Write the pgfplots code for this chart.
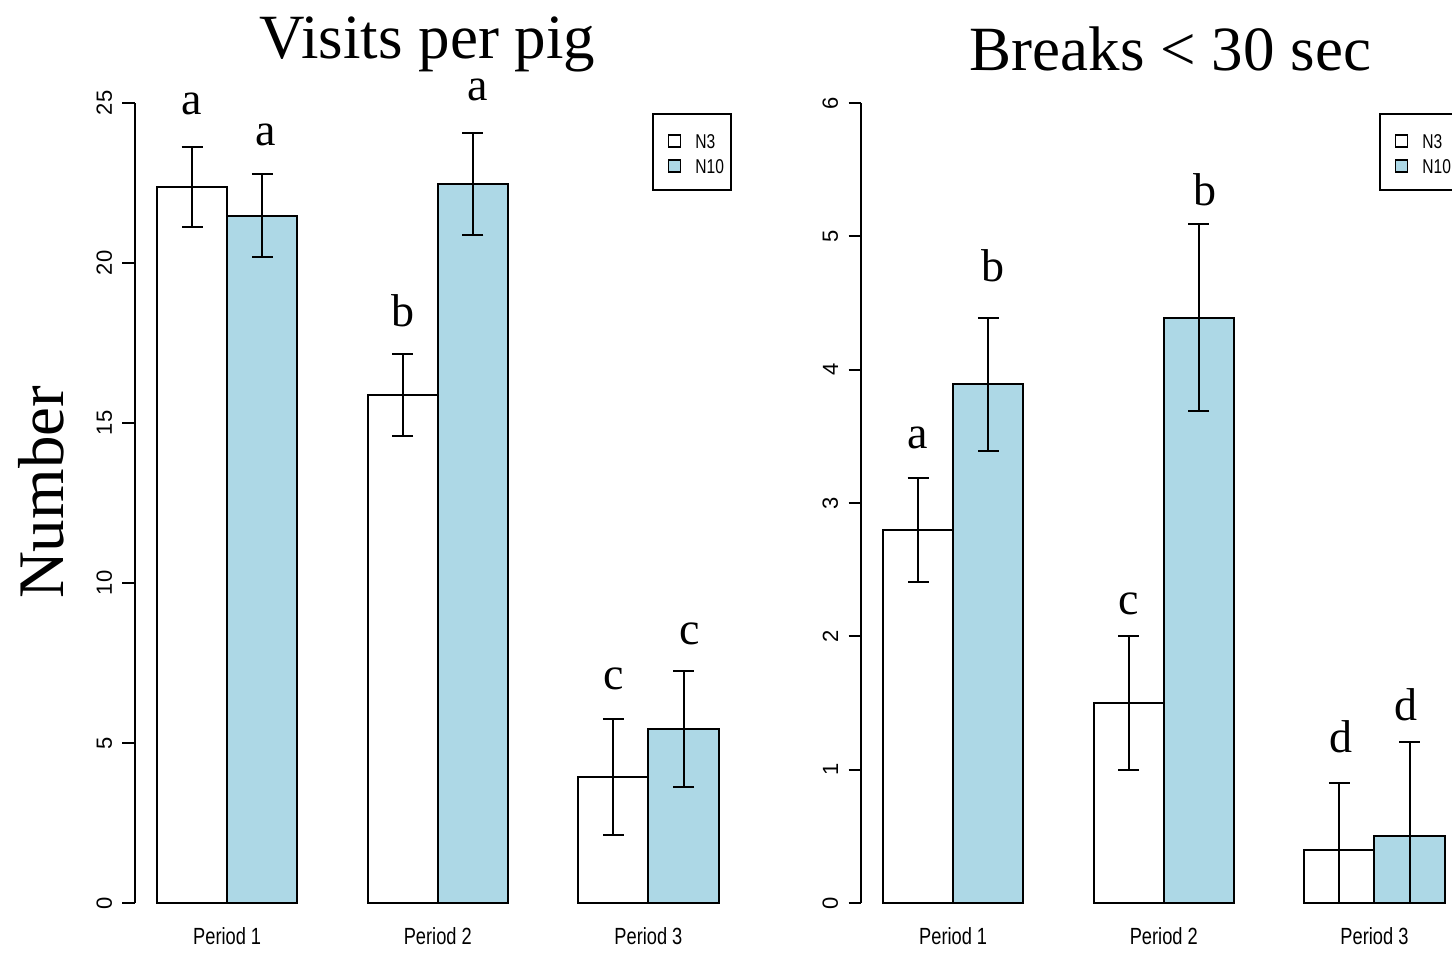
\documentclass[border=0pt]{standalone}
\usepackage{fontspec}
\setmainfont{Liberation Serif}
\newfontfamily\rsans{Liberation Sans}
\newfontfamily\rnarrow[FakeStretch=0.78]{Liberation Sans}
\usepackage{pgfplots}
\pgfplotsset{compat=1.18}
\definecolor{lb}{HTML}{ADD8E6}
\tikzset{lett/.style={anchor=base, font=\fontsize{23}{24}\selectfont}}
\pgfplotsset{
  rpanel/.style={
    scale only axis, width=303.3pt, height=400pt,
    xmin=0.68, xmax=9.32, ymin=0,
    axis y line*=left, axis x line*=bottom,
    x axis line style={draw=none},
    xtick={2,5,8}, xticklabels={Period 1,Period 2,Period 3},
    xtick style={draw=none},
    tick align=outside, major tick length=6pt,
    y axis line style={line width=1pt},
    ytick style={line width=1pt, black},
    yticklabel shift=5pt,
    xticklabel shift=6pt,
    yticklabel style={rotate=90, anchor=south, inner sep=0pt,
      font=\rsans\fontsize{11}{12}\selectfont},
    xticklabel style={anchor=north, inner sep=0pt,
      font=\rnarrow\fontsize{11.7}{13}\selectfont},
    /pgf/number format/assume math mode=true,
    clip=false,
    legend style={anchor=north west, draw=none, fill=none, inner sep=0pt,
      font=\rnarrow\fontsize{10}{10}\selectfont, row sep=0pt,
      column sep=5pt, cells={anchor=west}},
  },
  rbar/.style={ybar, bar width=1, bar shift=0pt, draw=black, line width=1pt,
    legend image code/.code={\draw[##1,line width=0.8pt] (0pt,-2pt) rectangle (6pt,4pt);},
    error bars/y dir=both, error bars/y explicit,
    error bars/error bar style={line width=1pt, black},
    error bars/error mark options={rotate=90, line width=1pt, black, mark size=5.25pt}},
}
\begin{document}
\begin{tikzpicture}
\path[use as bounding box] (0,0) rectangle (726pt,476.5pt);
% left panel
\begin{axis}[rpanel, at={(67.25pt,25pt)}, anchor=south west,
  ymax=25, ytick={0,5,10,15,20,25},
  legend style={at={(axis cs:8.27,24.15)}}]
\addplot[rbar, fill=white] coordinates {
  (1.5,22.38) +- (0,1.25)
  (4.5,15.88) +- (0,1.28)
  (7.5,3.94) +- (0,1.8)};
\addlegendentry{N3}
\addplot[rbar, fill=lb] coordinates {
  (2.5,21.48) +- (0,1.29)
  (5.5,22.47) +- (0,1.6)
  (8.5,5.44) +- (0,1.8)};
\addlegendentry{N10}
\node[lett] at (axis cs:1.49,24.63) {a};
\node[lett] at (axis cs:2.55,23.67) {a};
\node[lett] at (axis cs:4.51,18.01) {b};
\node[lett] at (axis cs:5.57,25.09) {a};
\node[lett] at (axis cs:7.51,6.68) {c};
\node[lett] at (axis cs:8.585,8.08) {c};
\draw[line width=1pt] (axis cs:8.07,24.65) rectangle (axis cs:9.18,22.28);
\end{axis}
% right panel
\begin{axis}[rpanel, at={(430.25pt,25pt)}, anchor=south west,
  ymax=6, ytick={0,1,2,3,4,5,6},
  legend style={at={(axis cs:8.285,5.797)}}]
\addplot[rbar, fill=white] coordinates {
  (1.5,2.8) +- (0,0.39)
  (4.5,1.5) +- (0,0.5)
  (7.5,0.4) += (0,0.5) -= (0,0.4)};
\addlegendentry{N3}
\addplot[rbar, fill=lb] coordinates {
  (2.5,3.89) +- (0,0.5)
  (5.5,4.39) +- (0,0.7)
  (8.5,0.505) += (0,0.7) -= (0,0.505)};
\addlegendentry{N10}
\node[lett] at (axis cs:1.49,3.41) {a};
\node[lett] at (axis cs:2.57,4.66) {b};
\node[lett] at (axis cs:4.50,2.16) {c};
\node[lett] at (axis cs:5.58,5.23) {b};
\node[lett] at (axis cs:7.52,1.13) {d};
\node[lett] at (axis cs:8.45,1.365) {d};
\draw[line width=1pt] (axis cs:8.085,5.915) rectangle (axis cs:9.19,5.35);
\end{axis}
% titles and y label
\node[anchor=base, font=\fontsize{31.5}{33}\selectfont] at (213.75pt,447pt) {Visits per pig};
\node[anchor=base, font=\fontsize{31.5}{33}\selectfont] at (585.25pt,441pt) {Breaks < 30 sec};
\node[rotate=90, anchor=base, font=\fontsize{32.5}{34}\selectfont] at (31.5pt,230.25pt) {Number};
\end{tikzpicture}
\end{document}
